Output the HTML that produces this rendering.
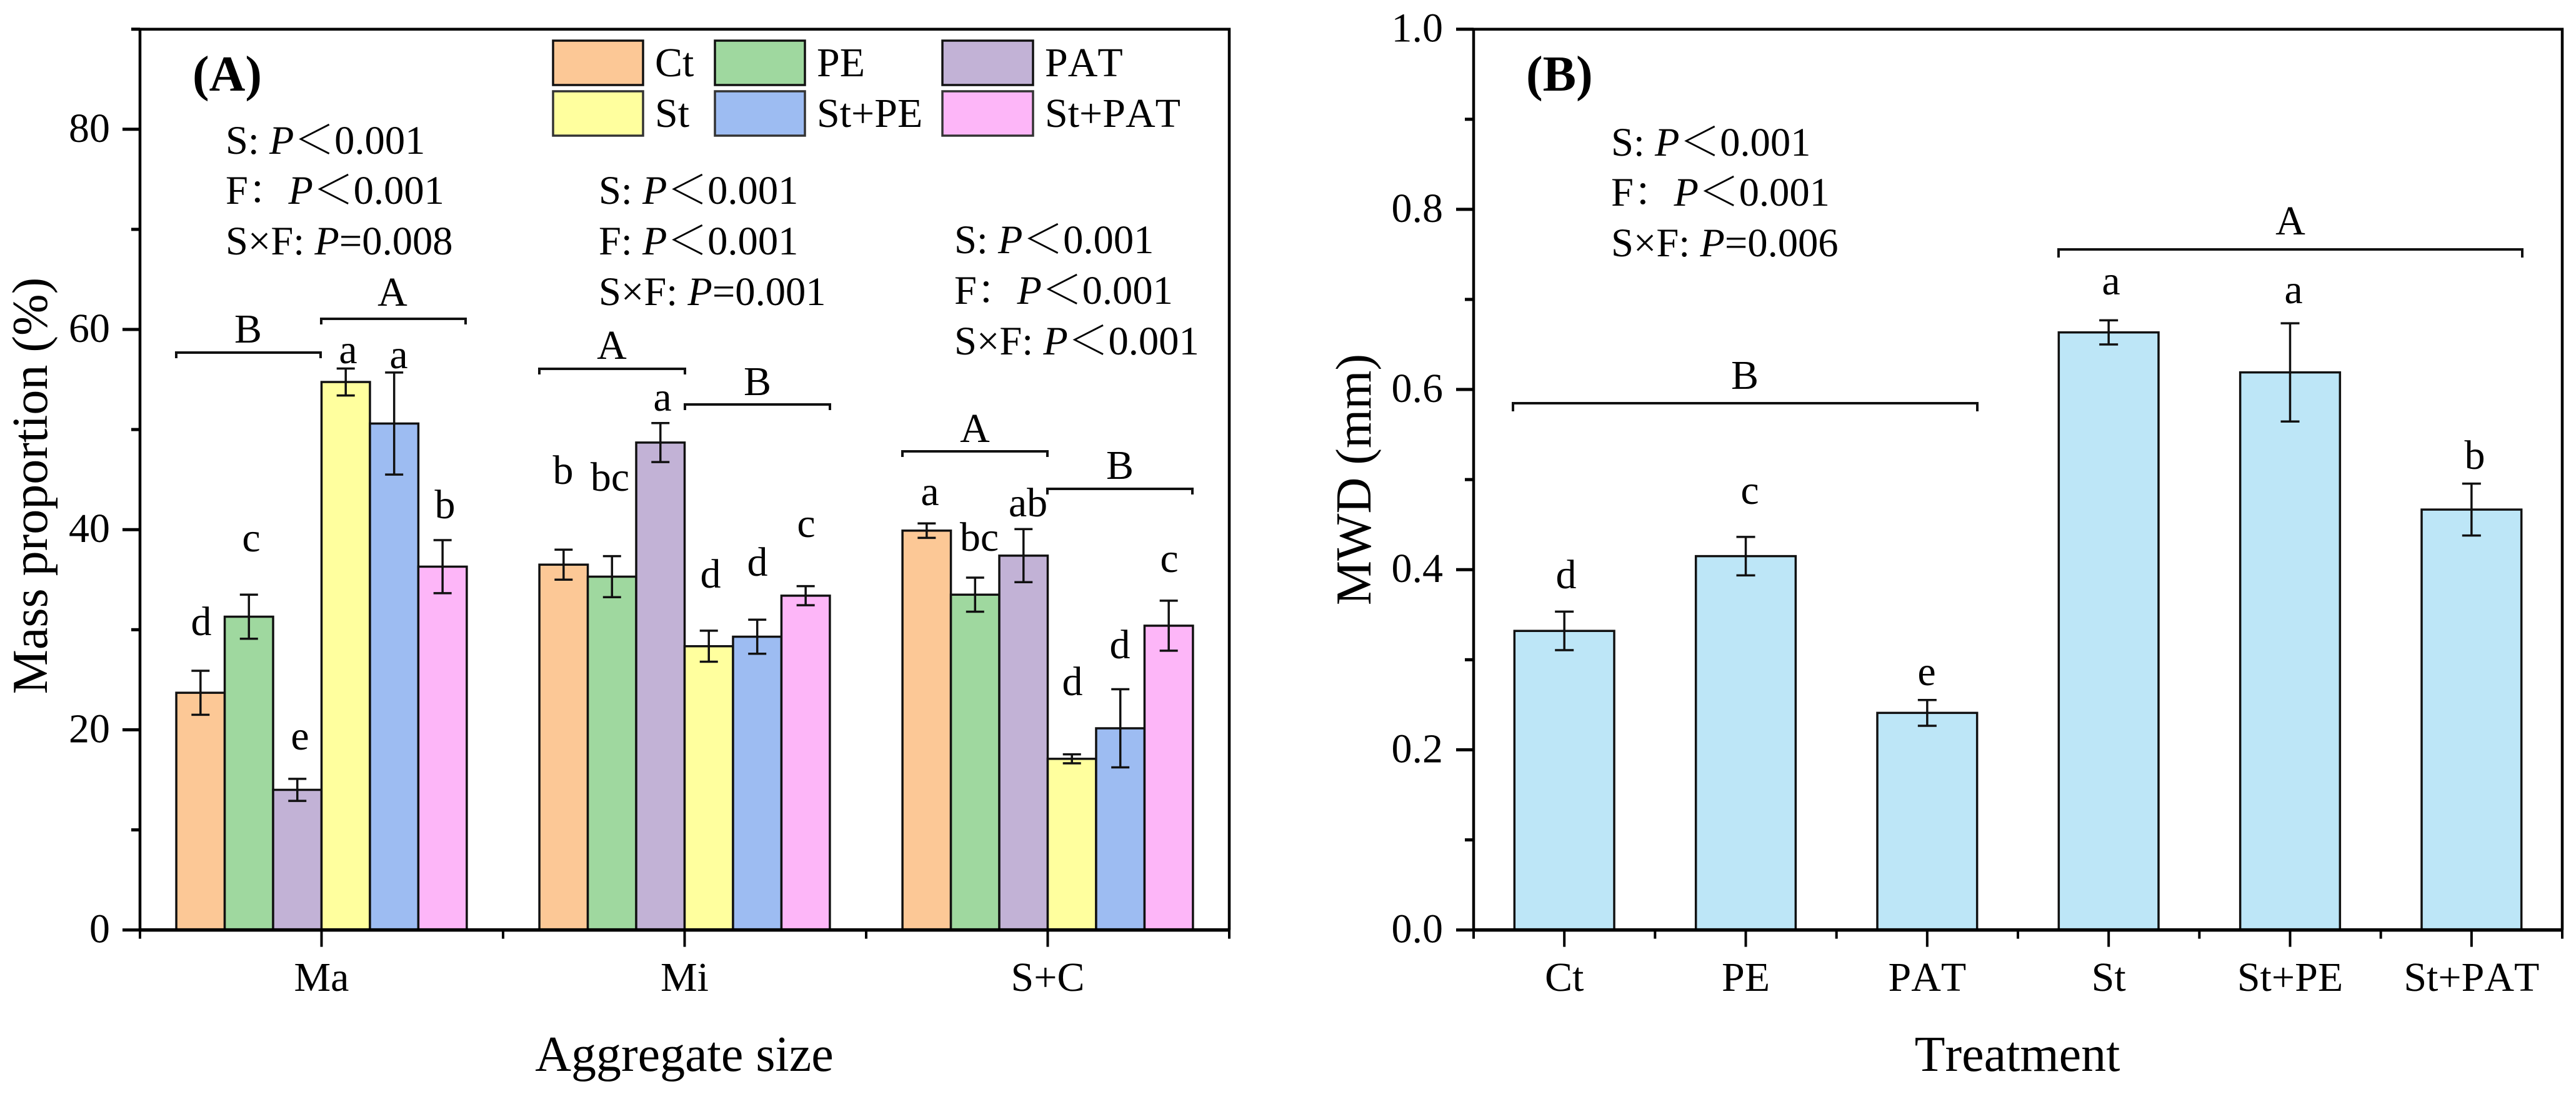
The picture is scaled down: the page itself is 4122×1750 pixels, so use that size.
<!DOCTYPE html>
<html lang="en">
<head>
<meta charset="utf-8">
<title>Mass proportion and MWD charts</title>
<style>
html,body{margin:0;padding:0;background:#fff;width:4122px;height:1750px;overflow:hidden}
svg{display:block}
text{font-family:"Liberation Serif","Noto Serif CJK SC",serif;fill:#000;font-kerning:none}
.i{font-style:italic}
.s{font-size:64.6px}
.l{font-size:66px;text-anchor:middle}
.t{font-size:66px}
.at{font-size:80px}
.br{fill:none;stroke:#111;stroke-width:4}
</style>
</head>
<body>
<svg id="fig" xmlns="http://www.w3.org/2000/svg" width="4122" height="1750" viewBox="0 0 4122 1750">
<rect x="0" y="0" width="4122" height="1750" fill="#fff"/>
<g id="panelA"></g>
<g id="panelB"></g>

<g>
<text x="308" y="145" font-size="80" font-weight="bold">(A)</text>
<text class="at" text-anchor="middle" transform="translate(75 777) rotate(-90)">Mass proportion (%)</text>
<text class="at" text-anchor="middle" x="1095" y="1713">Aggregate size</text>

<g>
<rect x="885" y="65" width="144" height="71" fill="#FCC896" stroke="#111" stroke-width="3.5"/>
<rect x="1144" y="65" width="144" height="71" fill="#9FD89F" stroke="#111" stroke-width="3.5"/>
<rect x="1508" y="65" width="145" height="71" fill="#C2B2D6" stroke="#111" stroke-width="3.5"/>
<rect x="885" y="146" width="144" height="71" fill="#FFFF9E" stroke="#333" stroke-width="3.5"/>
<rect x="1144" y="146" width="144" height="71" fill="#9DBCF2" stroke="#333" stroke-width="3.5"/>
<rect x="1508" y="146" width="145" height="71" fill="#FDB6F8" stroke="#333" stroke-width="3.5"/>
<text class="t" x="1048" y="122">Ct</text>
<text class="t" x="1307" y="122">PE</text>
<text class="t" x="1672" y="122">PAT</text>
<text class="t" x="1048" y="203">St</text>
<text class="t" x="1307" y="203">St+PE</text>
<text class="t" x="1672" y="203">St+PAT</text>
</g>

<g>
<text class="s" x="361" y="246">S: <tspan class="i">P</tspan>＜0.001</text>
<text class="s" x="361" y="326">F：<tspan class="i">P</tspan>＜0.001</text>
<text class="s" x="361" y="407">S×F: <tspan class="i">P</tspan>=0.008</text>
</g>
<g>
<text class="s" x="958" y="326">S: <tspan class="i">P</tspan>＜0.001</text>
<text class="s" x="958" y="407">F: <tspan class="i">P</tspan>＜0.001</text>
<text class="s" x="958" y="488">S×F: <tspan class="i">P</tspan>=0.001</text>
</g>
<g>
<text class="s" x="1527" y="405">S: <tspan class="i">P</tspan>＜0.001</text>
<text class="s" x="1527" y="486">F：<tspan class="i">P</tspan>＜0.001</text>
<text class="s" x="1527" y="567">S×F: <tspan class="i">P</tspan>＜0.001</text>
</g>

<g>
<path class="br" d="M282 573V564H513V573"/>
<text class="l" x="397" y="548">B</text>
<path class="br" d="M514 519V510H745V519"/>
<text class="l" x="628" y="489">A</text>
<path class="br" d="M863 599V590H1096V599"/>
<text class="l" x="979" y="574">A</text>
<path class="br" d="M1096 656V647H1328V656"/>
<text class="l" x="1212" y="632">B</text>
<path class="br" d="M1444 731V722H1676V731"/>
<text class="l" x="1560" y="707">A</text>
<path class="br" d="M1676 791V782H1908V791"/>
<text class="l" x="1792" y="766">B</text>
</g>

<g>
<text class="l" x="322" y="1016">d</text>
<text class="l" x="402" y="882">c</text>
<text class="l" x="480" y="1199">e</text>
<text class="l" x="557" y="581">a</text>
<text class="l" x="638" y="589">a</text>
<text class="l" x="712" y="829">b</text>
<text class="l" x="901" y="774">b</text>
<text class="l" x="976" y="785">bc</text>
<text class="l" x="1060" y="657">a</text>
<text class="l" x="1137" y="940">d</text>
<text class="l" x="1212" y="921">d</text>
<text class="l" x="1290" y="859">c</text>
<text class="l" x="1488" y="808">a</text>
<text class="l" x="1567" y="881">bc</text>
<text class="l" x="1645" y="826">ab</text>
<text class="l" x="1716" y="1112">d</text>
<text class="l" x="1792" y="1053">d</text>
<text class="l" x="1871" y="915">c</text>
</g>
</g>

<g>
<text x="2442" y="145" font-size="80" font-weight="bold">(B)</text>
<text class="at" text-anchor="middle" transform="translate(2193 767) rotate(-90)">MWD (mm)</text>
<text class="at" text-anchor="middle" x="3228" y="1713">Treatment</text>
<g>
<text class="s" x="2578" y="249">S: <tspan class="i">P</tspan>＜0.001</text>
<text class="s" x="2578" y="329">F：<tspan class="i">P</tspan>＜0.001</text>
<text class="s" x="2578" y="410">S×F: <tspan class="i">P</tspan>=0.006</text>
</g>
<path class="br" d="M2421 658V645H3164V658"/>
<text class="l" x="2792" y="622">B</text>
<path class="br" d="M3294 412V399H4036V412"/>
<text class="l" x="3665" y="375">A</text>
<g>
<text class="l" x="2506" y="941">d</text>
<text class="l" x="2800" y="806">c</text>
<text class="l" x="3083" y="1096">e</text>
<text class="l" x="3378" y="471">a</text>
<text class="l" x="3670" y="485">a</text>
<text class="l" x="3960" y="750">b</text>
</g>
</g>
</svg>

<script>
const aggregateSizes = ['Ma', 'Mi', 'S+C'];
const treatmentsA = ['Ct', 'PE', 'PAT', 'St', 'St+PE', 'St+PAT'];
const massMa = [23.7, 31.3, 14.0, 54.75, 50.6, 36.3];
const massMi = [36.5, 35.3, 48.7, 28.35, 29.3, 33.4];
const massSC = [39.9, 33.5, 37.4, 17.1, 20.15, 30.4];
const errMa = [2.2, 2.2, 1.1, 1.35, 5.1, 2.65];
const errMi = [1.5, 2.05, 1.95, 1.55, 1.7, 0.95];
const errSC = [0.72, 1.7, 2.65, 0.45, 3.9, 2.5];
const yTicksA = [0, 20, 40, 60, 80];
const yMinorA = [10, 30, 50, 70, 90];
const yLabelsA = ['0', '20', '40', '60', '80'];
const barColorsA = ['#FCC896', '#9FD89F', '#C2B2D6', '#FFFF9E', '#9DBCF2', '#FDB6F8'];

const treatmentsB = ['Ct', 'PE', 'PAT', 'St', 'St+PE', 'St+PAT'];
const mwdValues = [0.332, 0.415, 0.241, 0.6634, 0.619, 0.4667];
const mwdErrors = [0.0214, 0.0213, 0.0143, 0.0134, 0.0545, 0.0288];
const yTicksB = [0, 0.2, 0.4, 0.6, 0.8, 1.0];
const yMinorB = [0.1, 0.3, 0.5, 0.7, 0.9];
const yLabelsB = ['0.0', '0.2', '0.4', '0.6', '0.8', '1.0'];

const NS = 'http://www.w3.org/2000/svg';
const plotTop = 46.7;
const plotBottom = 1487.6;

function make(tag, attrs, parent) {
  const e = document.createElementNS(NS, tag);
  for (const k in attrs) e.setAttribute(k, attrs[k]);
  parent.appendChild(e);
  return e;
}

function drawAxes(parent, prefix, left, right, yScale, majors, minors, labels, labelRight, xMajors, xMinors, xLabels) {
  const frame = make('path', {d: 'M' + left + ' ' + plotBottom + 'V' + plotTop + 'H' + right + 'V' + plotBottom, fill: 'none', stroke: '#000', 'stroke-width': 4.5}, parent);
  
  
  const base = make('line', {x1: left, x2: right + 2, y1: plotBottom, y2: plotBottom, stroke: '#000', 'stroke-width': 5.5}, parent);
  
  
  majors.forEach(function (v, i) {
    const tick = make('line', {x1: left - 28, x2: left, y1: yScale(v), y2: yScale(v), stroke: '#000', 'stroke-width': 5}, parent);
    
    
    const label = make('text', {x: labelRight, y: yScale(v) + 20, 'text-anchor': 'end', 'font-size': 66}, parent);
    label.textContent = labels[i];
    
    
  });
  minors.forEach(function (v) {
    const tick = make('line', {x1: left - 14, x2: left, y1: yScale(v), y2: yScale(v), stroke: '#000', 'stroke-width': 5}, parent);
    
    
  });
  xMajors.forEach(function (x, i) {
    const tick = make('line', {x1: x, x2: x, y1: plotBottom, y2: plotBottom + 27, stroke: '#000', 'stroke-width': 4}, parent);
    
    
    const label = make('text', {x: x, y: 1585, 'text-anchor': 'middle', 'font-size': 66}, parent);
    label.textContent = xLabels[i];
    
    
  });
  xMinors.forEach(function (x) {
    const tick = make('line', {x1: x, x2: x, y1: plotBottom, y2: plotBottom + 14, stroke: '#000', 'stroke-width': 4}, parent);
    
    
  });
}

function drawBar(parent, name, x, w, yTop, yUp, yLow, fill, capHalf) {
  const bar = make('rect', {x: x, y: yTop, width: w, height: plotBottom - yTop, fill: fill, stroke: '#111', 'stroke-width': 3.5}, parent);
  
  
  const cx = x + w / 2;
  const err = make('path', {d: 'M' + cx + ' ' + yUp + 'V' + yLow + 'M' + (cx - capHalf) + ' ' + yUp + 'H' + (cx + capHalf) + 'M' + (cx - capHalf) + ' ' + yLow + 'H' + (cx + capHalf), fill: 'none', stroke: '#111', 'stroke-width': 3.5}, parent);
  
  
}

/* Panel A */
const aLeft = 224, aRight = 1967;
const aCat = (aRight - aLeft) / aggregateSizes.length;
const aBar = aCat * 0.8 / treatmentsA.length;
function yA(v) { return plotBottom - v / 90 * (plotBottom - plotTop); }
function xA(g, s) { return aLeft + aCat * (g + 0.5) - aBar * treatmentsA.length / 2 + aBar * s; }
const massGroups = [massMa, massMi, massSC];
const errGroups = [errMa, errMi, errSC];
const gA = document.getElementById('panelA');
massGroups.forEach(function (vals, g) {
  vals.forEach(function (v, s) {
    drawBar(gA, aggregateSizes[g] + '-' + treatmentsA[s], xA(g, s), aBar, yA(v), yA(v + errGroups[g][s]), yA(v - errGroups[g][s]), barColorsA[s], 14.5);
  });
});
const aMajorX = aggregateSizes.map(function (_, i) { return aLeft + aCat * (i + 0.5); });
const aMinorX = aggregateSizes.map(function (_, i) { return aLeft + aCat * i; }).concat([aRight]);
drawAxes(gA, 'panel-a', aLeft, aRight, yA, yTicksA, yMinorA, yLabelsA, 176, aMajorX, aMinorX, aggregateSizes);

/* Panel B */
const bLeft = 2358, bRight = 4100;
const bCat = (bRight - bLeft) / treatmentsB.length;
const bBar = bCat * 0.55;
function yB(v) { return plotBottom - v * (plotBottom - plotTop); }
function xB(i) { return bLeft + bCat * (i + 0.5); }
const gB = document.getElementById('panelB');
mwdValues.forEach(function (v, i) {
  drawBar(gB, 'mwd-' + treatmentsB[i], xB(i) - bBar / 2, bBar, yB(v), yB(v + mwdErrors[i]), yB(v - mwdErrors[i]), '#BDE6F7', 15);
});
const bMajorX = treatmentsB.map(function (_, i) { return xB(i); });
const bMinorX = treatmentsB.map(function (_, i) { return bLeft + bCat * i; }).concat([bRight]);
drawAxes(gB, 'panel-b', bLeft, bRight, yB, yTicksB, yMinorB, yLabelsB, 2309, bMajorX, bMinorX, treatmentsB);
</script>
</body>
</html>
